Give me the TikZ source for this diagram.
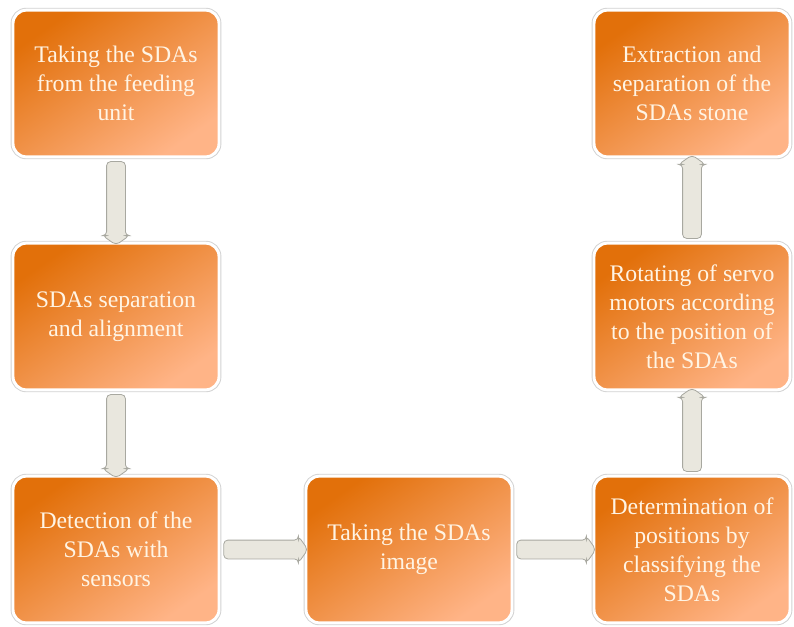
\documentclass[tikz,border=0pt]{standalone}
\usepackage{fontspec}
\setmainfont{Liberation Serif}
\usetikzlibrary{shapes.arrows,calc,shadows}
\definecolor{boxtop}{HTML}{E2700A}
\definecolor{boxmid}{HTML}{EE801E}
\definecolor{boxbot}{HTML}{FFB487}
\definecolor{boxtext}{HTML}{FFF4E4}
\definecolor{arrowfill}{HTML}{E9E7DE}
\definecolor{arrowline}{HTML}{A8A8A0}
\newcommand{\flowconnect}[2]{%
  \path let \p1=(#1), \p2=(#2), \n1={atan2(\y2-\y1,\x2-\x1)}, \n2={veclen(\x2-\x1,\y2-\y1)} in
    node[flowarrow,minimum height=\n2,rotate=\n1] at ($(\p1)!0.5!(\p2)$) {};}
\begin{document}
\begin{tikzpicture}[x=0.75pt,y=-0.75pt]
\tikzset{
    stepbox/.style={rounded corners=10pt,minimum height=110pt,align=center,
        font=\fontsize{17.8}{21.8}\selectfont,text=boxtext,
        top color=boxtop,middle color=boxmid,bottom color=boxbot,shading angle=35,
        drop shadow={shadow xshift=1.3pt,shadow yshift=-1.3pt,opacity=0.22,fill=gray},
        preaction={draw=gray!35,line width=3.6pt},draw=white,line width=2.2pt},
    widebox/.style={stepbox,minimum width=154.5pt},
    narrowbox/.style={stepbox,minimum width=147pt},
    flowarrow/.style={single arrow,draw=arrowline,fill=arrowfill,line width=0.6pt,
        inner xsep=0pt,inner ysep=6.75pt,single arrow head extend=3pt,
        single arrow tip angle=110,rounded corners=3pt}
}
\useasboundingbox (0,0) rectangle (794,626);
% left column, top to bottom
\node[widebox] (feed) at (116,83.5) {Taking the SDAs\\from the feeding\\unit};
\node[widebox] (align) at (116,316.5) {SDAs separation\\and alignment};
\node[widebox] (detect) at (116,549.5) {Detection of the\\SDAs with\\sensors};
% bottom row
\node[widebox] (image) at (409,549.5) {Taking the SDAs\\image};
\node[narrowbox] (classify) at (692,549.5) {Determination of\\positions by\\classifying the\\SDAs};
% right column, bottom to top
\node[narrowbox] (servo) at (692,316.5) {Rotating of servo\\motors according\\to the position of\\the SDAs};
\node[narrowbox] (extract) at (692,83.5) {Extraction and\\separation of the\\SDAs stone};

\flowconnect{feed.south}{align.north}
\flowconnect{align.south}{detect.north}
\flowconnect{detect.east}{image.west}
\flowconnect{image.east}{classify.west}
\flowconnect{classify.north}{servo.south}
\flowconnect{servo.north}{extract.south}
\end{tikzpicture}
\end{document}
